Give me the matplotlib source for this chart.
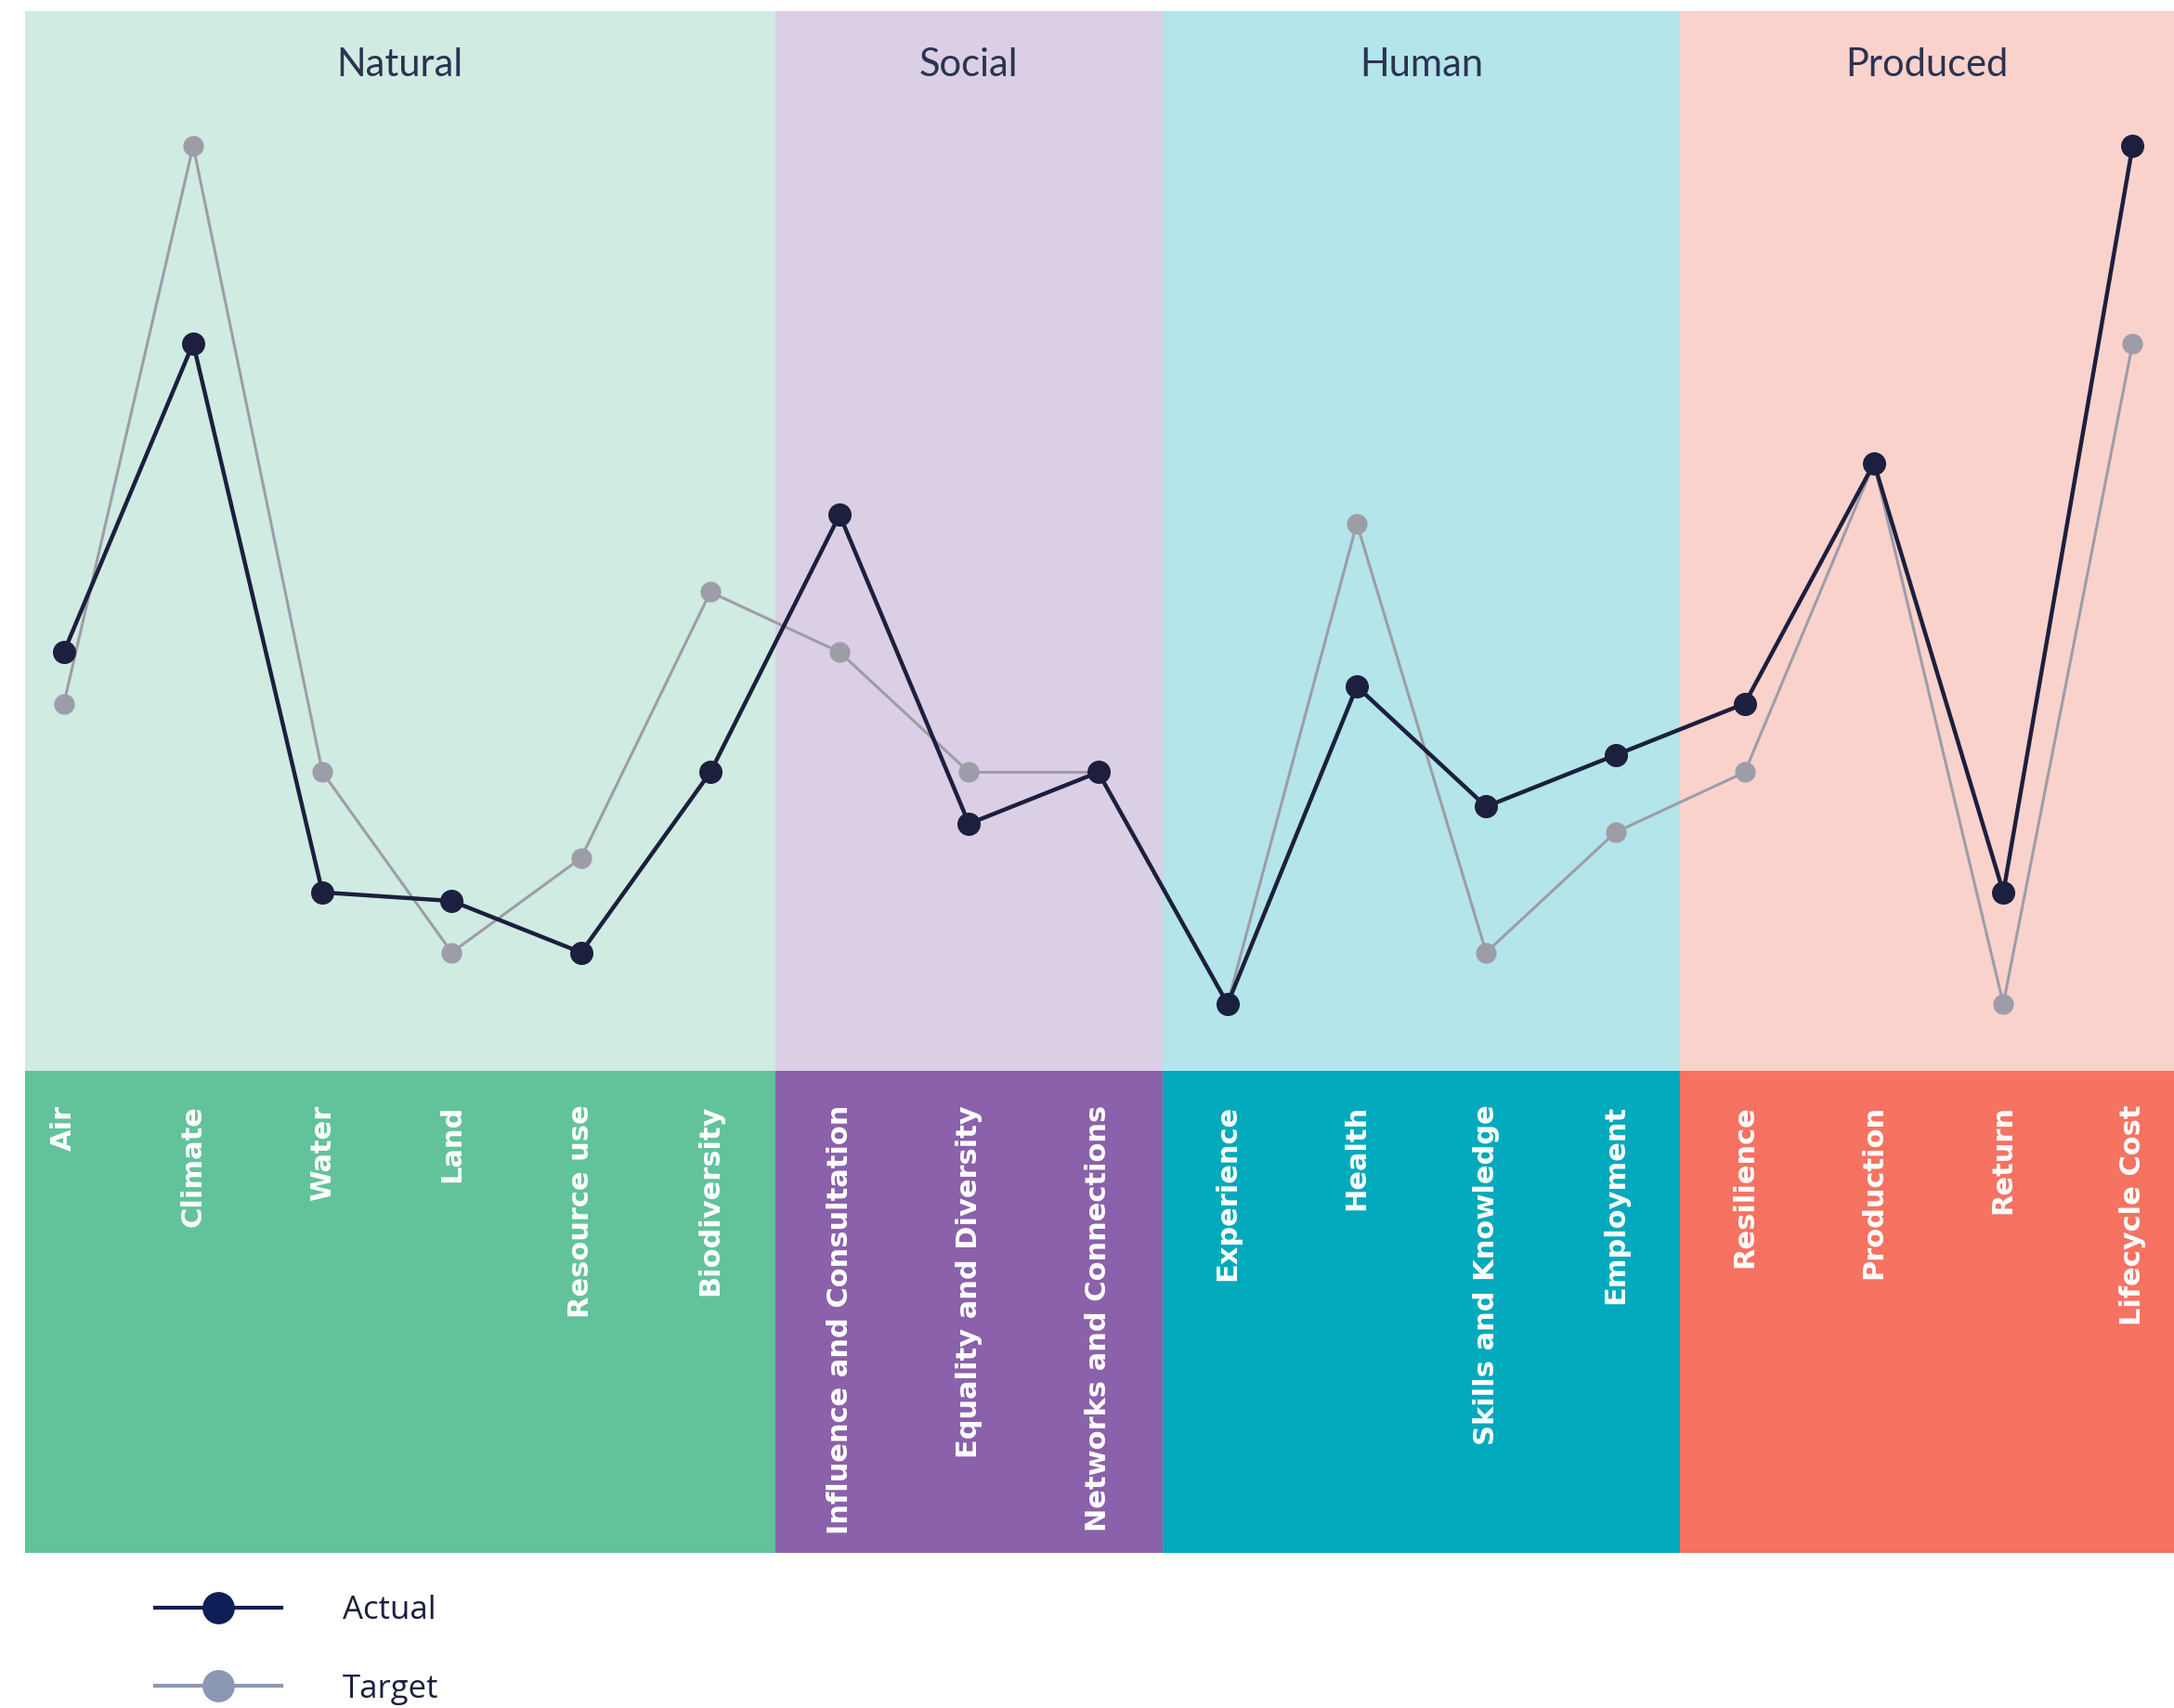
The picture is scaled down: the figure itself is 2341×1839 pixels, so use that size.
import matplotlib.pyplot as plt
from matplotlib.lines import Line2D
import matplotlib.transforms as mtransforms

# capitals and their indicators
categories = ["Air", "Climate", "Water", "Land", "Resource use", "Biodiversity",
              "Influence and Consultation", "Equality and Diversity", "Networks and Connections",
              "Experience", "Health", "Skills and Knowledge", "Employment",
              "Resilience", "Production", "Return", "Lifecycle Cost"]
groups = ["Natural", "Social", "Human", "Produced"]
group_sizes = [6, 3, 4, 4]

actual = [4.1, 7.7, 1.3, 1.2, 0.6, 2.7, 5.7, 2.1, 2.7, 0.0, 3.7, 2.3, 2.9, 3.5, 6.3, 1.3, 10.0]
target = [3.5, 10.0, 2.7, 0.6, 1.7, 4.8, 4.1, 2.7, 2.7, 0.0, 5.6, 0.6, 2.0, 2.7, 6.3, 0.0, 7.7]

light_colors = ["#d0ebe2", "#dbcfe5", "#b3e5ea", "#fad2cc"]
dark_colors = ["#62c39b", "#8a61aa", "#00aabc", "#f67261"]

W, H = 2341, 1839
fig = plt.figure(figsize=(W / 100, H / 100), dpi=100)

left, right = 27, 2341
top, mid, bottom = 12, 1153, 1672
ax = fig.add_axes([left / W, 1 - mid / H, (right - left) / W, (mid - top) / H])
ax2 = fig.add_axes([left / W, 1 - bottom / H, (right - left) / W, (bottom - mid) / H], sharex=ax)

xmin, xmax = -0.30, 16.32
x = list(range(len(categories)))

# coloured group panels
start = xmin
pos = 0
for i, (g, n) in enumerate(zip(groups, group_sizes)):
    pos += n
    end = pos - 0.5 if i < len(groups) - 1 else xmax
    ax.axvspan(start, end, color=light_colors[i], lw=0)
    ax2.axvspan(start, end, color=dark_colors[i], lw=0)
    ax.text((start + end) / 2, 0.949, g, transform=mtransforms.blended_transform_factory(ax.transData, ax.transAxes),
            ha="center", va="center", fontsize=30, color="#2b3350", family="Lato")
    start = end

ax.plot(x, target, color="#9d9da8", lw=2.2, marker="o", markersize=15, zorder=3)
ax.plot(x, actual, color="#1c1f3d", lw=3.2, marker="o", markersize=17, zorder=4)

ax.set_xlim(xmin, xmax)
ax.set_ylim(-0.78, 11.57)
for a in (ax, ax2):
    a.axis("off")
ax2.set_ylim(0, 1)

for xi, c in zip(x, categories):
    ax2.text(xi, 0.929, c, rotation=90, ha="center", va="top", color="white",
             fontsize=22, fontweight="bold", family="DejaVu Sans")

handles = [
    Line2D([], [], color="#0d1f56", lw=3, marker="o", markersize=24),
    Line2D([], [], color="#8c97b4", lw=3, marker="o", markersize=24),
]
fig.legend(handles, ["Actual", "Target"], loc="upper left", bbox_to_anchor=(136 / W, 1 - 1686 / H),
           frameon=False, handlelength=3.9, handletextpad=1.9, labelspacing=1.45,
           labelcolor="#1c1f3d", prop={"family": "Open Sans", "size": 25})

fig.savefig("out.png", dpi=100)
